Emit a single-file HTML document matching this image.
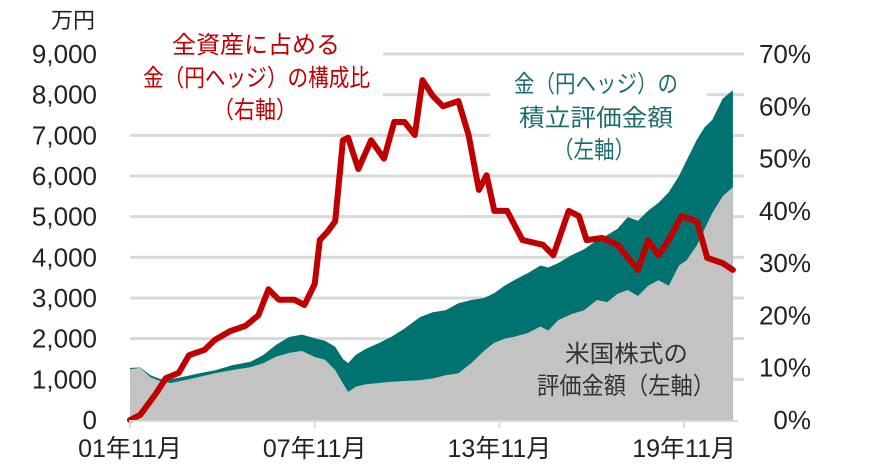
<!DOCTYPE html>
<html><head><meta charset="utf-8"><style>
html,body{margin:0;padding:0;background:#fff;}
svg{display:block;font-family:"Liberation Sans","Noto Sans CJK JP",sans-serif;}
</style></head><body>
<svg id="chart" width="879" height="470" viewBox="0 0 879 470">
<g id="grid"></g>
<g id="boxes">
<rect x="130" y="30" width="253" height="92" fill="#fff"/>
<rect x="490" y="68" width="217" height="98" fill="#fff"/>
</g>
<g id="areas"></g>
<g id="line"></g>
<g id="axes"></g>
<text x="95" y="28" text-anchor="end" font-size="22" fill="#222">万円</text>
<g font-size="24" fill="#c00000">
<text x="172" y="53" textLength="168" lengthAdjust="spacingAndGlyphs">全資産に占める</text>
<text x="143" y="86" textLength="227" lengthAdjust="spacingAndGlyphs">金（円ヘッジ）の構成比</text>
<text x="213" y="118" textLength="84" lengthAdjust="spacingAndGlyphs">（右軸）</text>
</g>
<g font-size="24" fill="#1f6e6e">
<text x="514" y="92" textLength="164" lengthAdjust="spacingAndGlyphs">金（円ヘッジ）の</text>
<text x="519" y="126" textLength="154" lengthAdjust="spacingAndGlyphs">積立評価金額</text>
<text x="553" y="158" textLength="82" lengthAdjust="spacingAndGlyphs">（左軸）</text>
</g>
<g font-size="24" fill="#333">
<text x="565" y="362" textLength="123" lengthAdjust="spacingAndGlyphs">米国株式の</text>
<text x="537" y="394" textLength="178" lengthAdjust="spacingAndGlyphs">評価金額（左軸）</text>
</g>
</svg>
<script>
const leftTicks=[0,1000,2000,3000,4000,5000,6000,7000,8000,9000];
const leftTickLabels=["0","1,000","2,000","3,000","4,000","5,000","6,000","7,000","8,000","9,000"];
const rightTicks=[0,10,20,30,40,50,60,70];
const rightTickLabels=["0%","10%","20%","30%","40%","50%","60%","70%"];
const xTickMonths=[0,72,144,216];
const xTickLabels=["01年11月","07年11月","13年11月","19年11月"];
const areaMonths=[0,4,8,12,16,22,27,33,40,47,52,57,62,67,72,76,80,83,85,88,92,97,102,107,113,118,123,128,133,138,142,146,150,155,160,163,167,172,177,182,186,190,194,198,202,206,210,214,217,221,224,227,231,235];
const stockValues=[1250,1280,1050,950,910,990,1060,1150,1230,1300,1400,1560,1650,1700,1550,1480,1230,900,690,820,880,910,940,960,980,1020,1100,1150,1400,1700,1900,2000,2050,2140,2300,2200,2460,2600,2700,2950,2900,3100,3200,3050,3300,3440,3300,3800,3930,4300,4700,5090,5500,5730];
const totalValues=[1280,1290,1100,1000,1000,1080,1150,1220,1350,1430,1600,1850,2040,2100,2010,1950,1800,1500,1400,1600,1750,1890,2050,2250,2530,2650,2700,2870,2950,3000,3120,3300,3450,3610,3800,3750,3860,4050,4200,4420,4550,4700,4990,4900,5150,5340,5600,6000,6390,6900,7200,7380,7900,8110];
const ratioMonths=[0,4,10,14,19,23,29,33,39,45,50,54,58,64,68,72,74,77,80,83,85,89,94,99,103,107,111,114,118,122,128,132,136,139,142,147,153,161,165,171,175,178,184,190,198,202,206,210,215,221,225,231,235];
const ratioValues=[0,1,5,8,9,12.4,13.4,15.3,17,18,20,25,23,23,22,26,34.4,36,38,53.5,54,48,53.5,50,57,57,54.5,65,62,60,61,54.5,44,46.8,40,40,34.4,33.5,31.5,40,39,34.4,34.8,33.5,28.7,34.4,31.5,34.4,39,38,31,30,28.7];
const NS="http://www.w3.org/2000/svg";
const X0=130,X1=738,Y0=420,YTOP=54;
const xs=m=>X0+m*(X1-X0)/237;
const yl=v=>Y0-v*(Y0-YTOP)/9000;
const yr=p=>Y0-p*(Y0-YTOP)/70;
function mk(tag,attrs,parent){const e=document.createElementNS(NS,tag);for(const k in attrs)e.setAttribute(k,attrs[k]);parent.appendChild(e);return e;}
const grid=document.getElementById('grid'),areas=document.getElementById('areas'),line=document.getElementById('line'),axes=document.getElementById('axes');
leftTicks.forEach((v,i)=>{
  if(v>0){const g=mk('line',{x1:X0,x2:744,y1:yl(v),y2:yl(v),stroke:'#d9d9d9','stroke-width':3},grid);
  
  }
  const t=mk('text',{x:97,y:yl(v)+9,'text-anchor':'end','font-size':26,fill:'#222'},axes);
  t.textContent=leftTickLabels[i];
  
  
});
rightTicks.forEach((p,i)=>{
  const t=mk('text',{x:811,y:yr(p)+9,'text-anchor':'end','font-size':26,fill:'#222'},axes);
  t.textContent=rightTickLabels[i];
  
  
});
function areaPath(vals){let d='M'+xs(areaMonths[0])+','+Y0;areaMonths.forEach((m,i)=>{d+=' L'+xs(m).toFixed(1)+','+yl(vals[i]).toFixed(1);});d+=' L'+xs(areaMonths[areaMonths.length-1])+','+Y0+' Z';return d;}
const ta=mk('path',{d:areaPath(totalValues),fill:'#007370'},areas);


const sa=mk('path',{d:areaPath(stockValues),fill:'#c3c3c3'},areas);


let d='';ratioMonths.forEach((m,i)=>{d+=(i?' L':'M')+xs(m).toFixed(1)+','+yr(ratioValues[i]).toFixed(1);});
const rl=mk('path',{d:d,fill:'none',stroke:'#c00000','stroke-width':6,'stroke-linejoin':'round','stroke-linecap':'round'},line);


const ax=mk('line',{x1:X0,x2:X1,y1:Y0+1,y2:Y0+1,stroke:'#d9d9d9','stroke-width':2},axes);


xTickMonths.forEach((m,i)=>{
  const tk=mk('line',{x1:xs(m),x2:xs(m),y1:Y0,y2:Y0+8,stroke:'#d9d9d9','stroke-width':2},axes);
  
  
  const t=mk('text',{x:xs(m),y:457,'text-anchor':'middle','font-size':25,fill:'#222'},axes);
  t.textContent=xTickLabels[i];
  
  
});
</script>
</body></html>
